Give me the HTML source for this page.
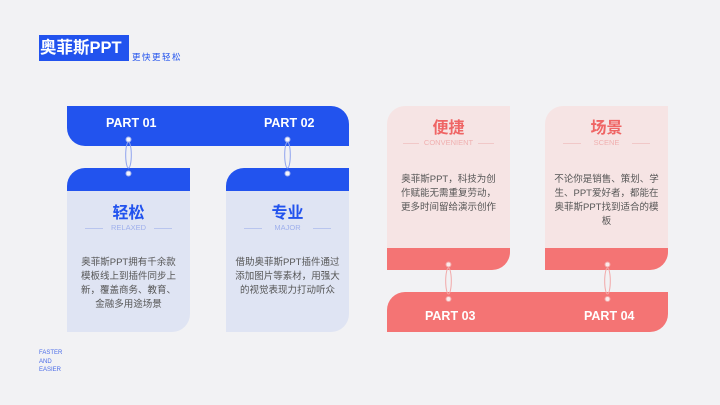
<!DOCTYPE html>
<html><head><meta charset="utf-8"><style>
*{margin:0;padding:0;box-sizing:border-box}
body{width:720px;height:405px;background:#f2f2f4;position:relative;overflow:hidden;font-family:"Liberation Sans","Noto Sans CJK SC",sans-serif}
.a{position:absolute}
.bar{color:#fff;font-weight:bold;font-size:12.5px}
.t{position:absolute;text-align:center;width:123px;left:0;line-height:1.2}
.body{font-size:9.5px;line-height:14px;color:#555;left:13px;width:97px}
</style></head><body>
<div class="a" style="left:39px;top:35px;width:90px;height:26px;background:#2253ee;color:#fff;font-weight:bold;font-size:16.5px;line-height:26px;padding-left:1px;white-space:nowrap">奥菲斯PPT</div>
<div class="a" style="left:132px;top:51px;font-size:8.5px;color:#2253ee;letter-spacing:1.5px">更快更轻松</div>
<div class="a" style="left:39px;top:349px;font-size:6px;line-height:8.5px;color:#4a6be8">FASTER<br>AND<br>EASIER</div>

<div class="a" style="left:67px;top:106px;width:282px;height:40px;background:#2253ee;border-radius:0 18px 0 18px"></div>
<div class="a bar" style="left:106px;top:116px">PART 01</div>
<div class="a bar" style="left:264px;top:116px">PART 02</div>

<div class="a" style="left:67px;top:168px;width:123px;height:164px;background:#dfe4f3;border-radius:18px 0 18px 0;overflow:hidden">
<div style="height:23px;background:#2253ee"></div>
<div class="t" style="top:36px;font-size:16px;font-weight:bold;color:#2253ee">轻松</div>
<div class="t" style="top:55px;font-size:7.5px;color:#9fb0ec">RELAXED</div>
<div class="a" style="left:18px;top:60px;width:18px;height:1px;background:#b9c5ee"></div>
<div class="a" style="left:87px;top:60px;width:18px;height:1px;background:#b9c5ee"></div>
<div class="t body" style="top:88px">奥菲斯PPT拥有千余款模板线上到插件同步上新，覆盖商务、教育、金融多用途场景</div>
</div>
<div class="a" style="left:226px;top:168px;width:123px;height:164px;background:#dfe4f3;border-radius:18px 0 18px 0;overflow:hidden">
<div style="height:23px;background:#2253ee"></div>
<div class="t" style="top:36px;font-size:16px;font-weight:bold;color:#2253ee">专业</div>
<div class="t" style="top:55px;font-size:7.5px;color:#9fb0ec">MAJOR</div>
<div class="a" style="left:18px;top:60px;width:18px;height:1px;background:#b9c5ee"></div>
<div class="a" style="left:87px;top:60px;width:18px;height:1px;background:#b9c5ee"></div>
<div class="t body" style="top:88px;left:8px;width:107px">借助奥菲斯PPT插件通过添加图片等素材，用强大的视觉表现力打动听众</div>
</div>

<div class="a" style="left:387px;top:106px;width:123px;height:164px;background:#f6e4e4;border-radius:18px 0 18px 0;overflow:hidden">
<div class="t" style="top:13px;font-size:16px;font-weight:bold;color:#ef6565">便捷</div>
<div class="t" style="top:32px;font-size:7.5px;color:#f0b0b0">CONVENIENT</div>
<div class="a" style="left:16px;top:37px;width:16px;height:1px;background:#f1c8c8"></div>
<div class="a" style="left:91px;top:37px;width:16px;height:1px;background:#f1c8c8"></div>
<div class="t body" style="top:67px;left:10px;width:103px">奥菲斯PPT，科技为创作赋能无需重复劳动，更多时间留给演示创作</div>
<div class="a" style="left:0;top:142px;width:123px;height:22px;background:#f47474"></div>
</div>
<div class="a" style="left:545px;top:106px;width:123px;height:164px;background:#f6e4e4;border-radius:18px 0 18px 0;overflow:hidden">
<div class="t" style="top:13px;font-size:16px;font-weight:bold;color:#ef6565">场景</div>
<div class="t" style="top:32px;font-size:7.5px;color:#f0b0b0">SCENE</div>
<div class="a" style="left:18px;top:37px;width:18px;height:1px;background:#f1c8c8"></div>
<div class="a" style="left:87px;top:37px;width:18px;height:1px;background:#f1c8c8"></div>
<div class="t body" style="top:67px;left:6px;width:111px">不论你是销售、策划、学生、PPT爱好者，都能在奥菲斯PPT找到适合的模板</div>
<div class="a" style="left:0;top:142px;width:123px;height:22px;background:#f47474"></div>
</div>

<div class="a" style="left:387px;top:292px;width:281px;height:40px;background:#f47474;border-radius:18px 0 18px 0"></div>
<div class="a bar" style="left:425px;top:309px">PART 03</div>
<div class="a bar" style="left:584px;top:309px">PART 04</div>

<svg class="a" style="left:0;top:0" width="720" height="405">
<g fill="none" stroke-width="1">
<g stroke="#8fa3ee">
<ellipse cx="128.5" cy="155" rx="2.8" ry="13"/><ellipse cx="287.5" cy="155" rx="2.8" ry="13"/>
</g>
<g stroke="#f2a8a8">
<ellipse cx="448.5" cy="281" rx="2.8" ry="13"/><ellipse cx="607.5" cy="281" rx="2.8" ry="13"/>
</g>
</g>
<g fill="#f4f4fb" stroke="#9fb0f0" stroke-width="1">
<circle cx="128.5" cy="139.5" r="2.5"/><circle cx="128.5" cy="173.5" r="2.5"/>
<circle cx="287.5" cy="139.5" r="2.5"/><circle cx="287.5" cy="173.5" r="2.5"/>
</g>
<g fill="#fbeaea" stroke="#f3a5a5" stroke-width="1">
<circle cx="448.5" cy="264.5" r="2.5"/><circle cx="448.5" cy="299" r="2.5"/>
<circle cx="607.5" cy="264.5" r="2.5"/><circle cx="607.5" cy="299" r="2.5"/>
</g>
</svg>
</body></html>
